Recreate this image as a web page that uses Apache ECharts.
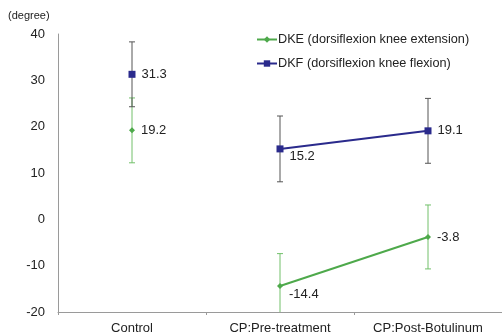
<!DOCTYPE html>
<html><head><meta charset="utf-8">
<script src="https://cdn.jsdelivr.net/npm/echarts@6/dist/echarts.min.js"></script>
<style>html,body{margin:0;padding:0;background:#fff;}#c{width:502px;height:336px;}</style>
</head><body><div id="c"></div>
<script>
var categories = ['Control', 'CP:Pre-treatment', 'CP:Post-Botulinum'];
var dkeValues = [19.2, -14.4, -3.8];
var dkfValues = [31.3, 15.2, 19.1];
var dkeErrors = [7.0, 7.0, 6.9];
var dkfErrors = [7.0, 7.1, 7.0];
var yTicks = [-20, -10, 0, 10, 20, 30, 40];
var dkeName = 'DKE (dorsiflexion knee extension)';
var dkfName = 'DKF (dorsiflexion knee flexion)';

var GREEN = '#4ea94b', NAVY = '#2a2a8c', GRAY = '#555555', ERRGREEN = '#72c06a';
var font = 'Liberation Sans, Arial, sans-serif';

function errData(vals, errs) {
  return vals.map(function (v, i) { return [i, v - errs[i], v + errs[i]]; });
}
function errSeries(vals, errs, color) {
  return {
    type: 'custom', clip: true, z: 1, silent: true,
    data: errData(vals, errs),
    renderItem: function (params, api) {
      var x = api.value(0);
      var p1 = api.coord([x, api.value(2)]);
      var p2 = api.coord([x, api.value(1)]);
      var cap = 3;
      var st = { stroke: color, lineWidth: 1 };
      return { type: 'group', children: [
        { type: 'line', shape: { x1: p1[0], y1: p1[1], x2: p2[0], y2: p2[1] }, style: st },
        { type: 'line', shape: { x1: p1[0] - cap, y1: p1[1], x2: p1[0] + cap, y2: p1[1] }, style: st },
        { type: 'line', shape: { x1: p2[0] - cap, y1: p2[1], x2: p2[0] + cap, y2: p2[1] }, style: st }
      ]};
    }
  };
}
function lineData(vals, offsets) {
  return vals.map(function (v, i) {
    if (i === 0) return null;
    return { value: v, label: { offset: offsets[i] } };
  });
}
function ctrlData(vals) {
  return vals.map(function (v, i) { return i === 0 ? v : null; });
}
var labelBase = { show: true, position: 'right', distance: 6, color: '#222', fontSize: 13, fontFamily: font };

var chart = echarts.init(document.getElementById('c'), null, { renderer: 'canvas' });
chart.setOption({
  animation: false,
  backgroundColor: '#fff',
  grid: { left: 58, width: 445, top: 34, height: 278 },
  graphic: [{ type: 'text', left: 8, top: 10, style: { text: '(degree)', fontSize: 11, fontFamily: font, fill: '#222' } }],
  legend: {
    data: [dkeName, dkfName], orient: 'vertical', left: 251, top: 28, itemGap: 11,
    itemWidth: 20, itemHeight: 8,
    textStyle: { fontSize: 12.7, fontFamily: font, color: '#222', padding: [0, 0, 0, -4] }
  },
  xAxis: {
    type: 'category', data: categories, boundaryGap: true,
    axisLine: { onZero: false, lineStyle: { color: '#9a9a9a' } },
    axisTick: { show: true, length: 3, lineStyle: { color: '#9a9a9a' } },
    axisLabel: { fontSize: 13, fontFamily: font, color: '#222', margin: 10 }
  },
  yAxis: {
    type: 'value', min: -20, max: 40, interval: 10,
    axisLine: { show: true, lineStyle: { color: '#9a9a9a' } },
    axisTick: { show: false },
    splitLine: { show: false },
    axisLabel: { fontSize: 13, fontFamily: font, color: '#222', margin: 13,
      formatter: function (v) { return yTicks.indexOf(v) >= 0 ? String(v) : ''; } }
  },
  series: [
    errSeries(dkeValues, dkeErrors, ERRGREEN),
    errSeries(dkfValues, dkfErrors, GRAY),
    { name: dkeName, type: 'line', z: 3, data: lineData(dkeValues, [[0,0],[0,8],[0,0]]),
      symbol: 'diamond', symbolSize: 6, itemStyle: { color: GREEN }, lineStyle: { color: GREEN, width: 2 },
      label: labelBase },
    { name: dkfName, type: 'line', z: 3, data: lineData(dkfValues, [[0,0],[0,8],[0,0]]),
      symbol: 'rect', symbolSize: 7, itemStyle: { color: NAVY }, lineStyle: { color: NAVY, width: 2 },
      label: labelBase },
    { name: 'dke-control', type: 'scatter', z: 4, data: ctrlData(dkeValues),
      symbol: 'diamond', symbolSize: 6, itemStyle: { color: GREEN, opacity: 1 }, label: labelBase },
    { name: 'dkf-control', type: 'scatter', z: 4, data: ctrlData(dkfValues),
      symbol: 'rect', symbolSize: 7, itemStyle: { color: NAVY, opacity: 1 }, label: labelBase }
  ]
});
</script></body></html>
